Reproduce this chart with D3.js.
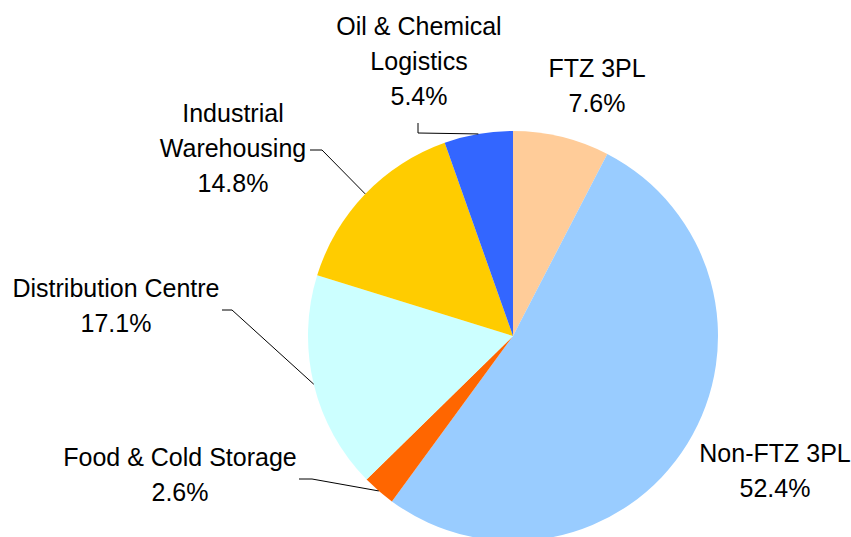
<!DOCTYPE html>
<html>
<head>
<meta charset="utf-8">
<script src="https://cdn.jsdelivr.net/npm/d3@7"></script>
<style>
  body { margin: 0; background: #fff; }
  #chart text { font-family: "Liberation Sans", Arial, sans-serif; font-size: 25px; fill: #000; }
</style>
</head>
<body>
<div id="chart"></div>
<script>
const categories = ["FTZ 3PL", "Non-FTZ 3PL", "Food & Cold Storage", "Distribution Centre", "Industrial Warehousing", "Oil & Chemical Logistics"];
const shares = [7.6, 52.4, 2.6, 17.1, 14.8, 5.4];
const colors = ["#FFCC99", "#99CCFF", "#FF6600", "#CCFFFF", "#FFCC00", "#3366FF"];
// label text broken into lines as in the original
const labelLines = [["FTZ 3PL"], ["Non-FTZ 3PL"], ["Food & Cold Storage"], ["Distribution Centre"], ["Industrial", "Warehousing"], ["Oil & Chemical", "Logistics"]];

const width = 851, height = 537;
const cx = 513, cy = 336, radius = 205;
const lineH = 35;

// where each label block sits (center x, first baseline) and the elbow of its leader line
const labelPos = [
  { x: 597, y: 77, leader: null },
  { x: 775, y: 462, leader: null },
  { x: 180, y: 466, leader: [[299, 479], [312, 479]] },
  { x: 116, y: 297, leader: [[222, 310], [232, 310]] },
  { x: 233, y: 122, leader: [[310, 150], [322, 150]] },
  { x: 419, y: 35, leader: [[418, 123], [418, 133]] }
];

const svg = d3.select("#chart").append("svg")
  .attr("width", width)
  .attr("height", height);

const g = svg.append("g").attr("transform", `translate(${cx},${cy})`);

const pie = d3.pie().sort(null).value(d => d);
const arcs = pie(shares);

const arc = d3.arc().innerRadius(0).outerRadius(radius);

g.selectAll("path.slice")
  .data(arcs)
  .join("path")
  .attr("class", "slice")
  .attr("d", arc)
  .attr("fill", (d, i) => colors[i]);

// leader lines: from slice edge to the label
arcs.forEach((d, i) => {
  const p = labelPos[i];
  if (!p.leader) return;
  const mid = (d.startAngle + d.endAngle) / 2;
  const ex = cx + radius * Math.sin(mid);
  const ey = cy - radius * Math.cos(mid);
  const pts = [[ex, ey], p.leader[1], p.leader[0]];
  svg.append("path")
    .attr("d", d3.line()(pts))
    .attr("fill", "none")
    .attr("stroke", "#000")
    .attr("stroke-width", 1);
});

// labels
labelPos.forEach((p, i) => {
  const lines = labelLines[i].concat([shares[i].toFixed(1) + "%"]);
  const t = svg.append("text")
    .attr("text-anchor", "middle")
    .attr("x", p.x)
    .attr("y", p.y);
  lines.forEach((s, k) => {
    t.append("tspan")
      .attr("x", p.x)
      .attr("dy", k === 0 ? 0 : lineH)
      .text(s);
  });
});
</script>
</body>
</html>
